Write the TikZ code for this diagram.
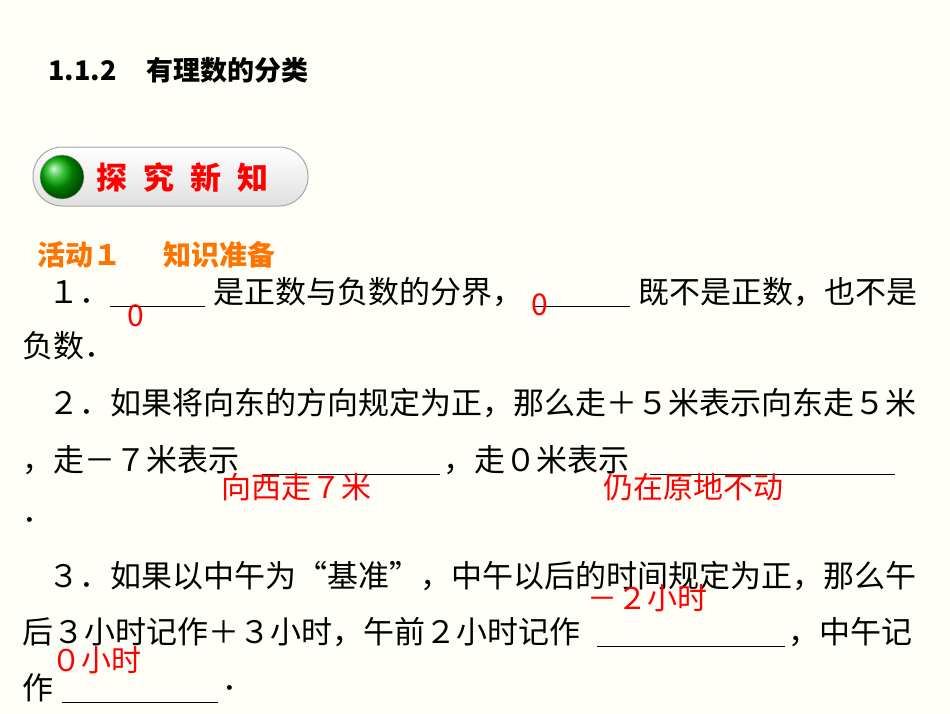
\documentclass[tikz,border=0pt]{standalone}
\usepackage{fontspec}
\setmainfont{Noto Sans CJK SC}
\begin{document}
\begin{tikzpicture}[x=1pt,y=-1pt,
 body/.style={anchor=west,inner sep=0pt,font=\fontsize{31}{33}\selectfont},
 ans/.style={anchor=center,inner sep=0pt,text=red,font=\fontsize{30}{32}\selectfont},
 blk/.style={line width=0.9pt}]
\fill[yellow!3!white] (0,0) rectangle (950,713);
\useasboundingbox (0,0) rectangle (950,713);
\node[anchor=west,inner sep=0pt,font=\fontsize{27}{29}\selectfont\bfseries] (t) at (48,70) {1.1.2\hspace{30pt}有理数的分类};
% button
\shade[top color=white,bottom color=gray!25,draw=gray!70,line width=1pt,rounded corners=29pt] (33,147) rectangle (308,206);
\shade[ball color=green!70!black,draw=gray!60] (62,177) circle (22);
\node[anchor=west,inner sep=0pt,text=red,font=\fontsize{31}{33}\selectfont\bfseries] (b) at (96,177) {探\hspace{16pt}究\hspace{16pt}新\hspace{16pt}知};
\node[anchor=west,inner sep=0pt,text=orange!90!red,font=\fontsize{28}{30}\selectfont\bfseries] (a) at (37,255) {活动１\hspace{42pt}知识准备};
% line 1
\node[body] (l1a) at (48,292) {１．};
\coordinate (b1s) at (110,306); \coordinate (b1e) at (205,306);
\node[body] (l1b) at (213,292) {是正数与负数的分界，};
\coordinate (b2s) at (533,306); \coordinate (b2e) at (630,306);
\node[body] (l1c) at (638,292) {既不是正数，也不是};
\node[body] (l2) at (22,346) {负数．};
\node[body] (l3) at (48,403) {２．如果将向东的方向规定为正，那么走＋５米表示向东走５米};
\node[body] (l4a) at (22,460) {，走－７米表示};
\coordinate (b3s) at (262,474); \coordinate (b3e) at (440,474);
\node[body] (l4b) at (443,460) {，走０米表示};
\coordinate (b4s) at (650,474); \coordinate (b4e) at (895,474);
\node[body] (l5) at (22,520) {．};
\node[body] (l6) at (48,576) {３．如果以中午为“基准”，中午以后的时间规定为正，那么午};
\node[body] (l7a) at (22,632) {后３小时记作＋３小时，午前２小时记作};
\coordinate (b5s) at (597,646); \coordinate (b5e) at (785,646);
\node[body] (l7b) at (788,632) {，中午记};
\node[body] (l8a) at (22,688) {作};
\coordinate (b6s) at (62,702); \coordinate (b6e) at (218,702);
\node[body] (l8b) at (222,688) {．};
\foreach \i in {1,...,6} \draw[blk] (b\i s) -- (b\i e);
\node[ans] (r1) at (136,316) {0};
\node[ans] (r2) at (540,305) {0};
\node[ans] (r3) at (296,487) {向西走７米};
\node[ans] (r4) at (693,487) {仍在原地不动};
\node[ans] (r5) at (647,598) {－２小时};
\node[ans] (r6) at (96,660) {０小时};
\end{tikzpicture}
\end{document}
